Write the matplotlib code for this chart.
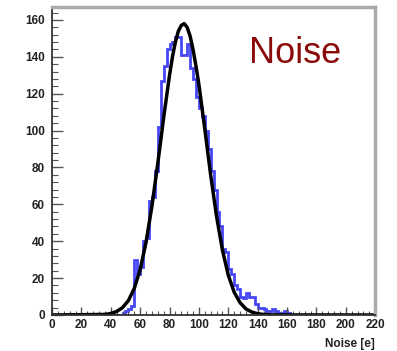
import matplotlib
matplotlib.use("Agg")
import matplotlib.pyplot as plt
from matplotlib.ticker import MultipleLocator

# Histogram (bin edges every 2 e, from 40 to 162)
bin_edges = list(range(40, 164, 2))
counts = [0, 0, 0, 0, 1, 2, 3, 5, 30, 22,
          26, 40, 42, 62, 64, 78, 102, 127, 135, 144,
          147, 148, 151, 151, 141, 141, 147, 134, 128, 118,
          112, 108, 100, 90, 78, 68, 56, 48, 36, 34,
          25, 22, 16, 14, 10, 9, 12, 10, 10, 6,
          4, 4, 3, 2, 2, 3, 2, 1, 1, 2, 1]

# Fitted curve
fit_x = [0, 36, 40, 44, 48, 52, 56, 60, 64, 68, 72, 76, 80, 82, 84, 86, 88, 90,
         92, 94, 96, 98, 100, 104, 108, 112, 116, 120, 124, 128, 132, 136, 140, 144, 150, 220]
fit_y = [0, 0.3, 0.8, 1.9, 4.0, 7.8, 14.4, 24.6, 39.4, 58.9, 82.1, 107, 130, 140, 148, 153.9, 157, 158,
         156, 151.3, 144, 135, 125, 101, 76, 53.6, 35.3, 21.6, 12.4, 6.7, 3.3, 1.6, 0.7, 0.3, 0.05, 0]

x_ticks = list(range(0, 240, 20))
y_ticks = list(range(0, 180, 20))

fig = plt.figure(figsize=(3.97, 3.51), dpi=100)
ax = fig.add_axes([0.131, 0.1026, 0.814, 0.8774])

ax.stairs(counts, bin_edges, color="#4646f5", lw=2.0)
ax.plot(fit_x, fit_y, color="black", lw=2.5)

ax.set_xlim(0, 220)
ax.set_ylim(0, 167)
ax.set_xticks(x_ticks)
ax.set_yticks(y_ticks)
ax.xaxis.set_minor_locator(MultipleLocator(4))
ax.yaxis.set_minor_locator(MultipleLocator(4))

ax.tick_params(axis="both", which="both", direction="in", top=False, right=False, colors="#555555",
               labelcolor="#222222")
ax.tick_params(axis="y", which="major", length=8, width=1, pad=5, labelsize=8.5)
ax.tick_params(axis="y", which="minor", length=4, width=0.8)
ax.tick_params(axis="x", which="major", length=6, width=1, pad=3, labelsize=8.5)
ax.tick_params(axis="x", which="minor", length=3, width=0.8)
for lab in ax.get_xticklabels() + ax.get_yticklabels():
    lab.set_fontfamily("Liberation Sans")
    lab.set_fontweight("bold")

for side in ["left", "bottom"]:
    ax.spines[side].set_color("#333333")
    ax.spines[side].set_linewidth(1.3)
for side in ["top", "right"]:
    ax.spines[side].set_color("#aaaaaa")
    ax.spines[side].set_linewidth(2.5)

ax.text(1.0, -0.075, "Noise [e]", transform=ax.transAxes, ha="right", va="top",
        fontsize=8.5, fontweight="bold", family="Liberation Sans", color="#222222")

ax.text(0.61, 0.848, "Noise", transform=ax.transAxes, ha="left", va="center",
        fontsize=26, family="Liberation Sans", color="#8b0a0a")

fig.savefig("out.png", dpi=100)
